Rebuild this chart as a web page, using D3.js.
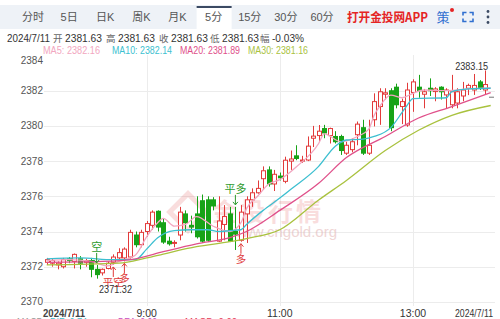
<!DOCTYPE html>
<html><head><meta charset="utf-8">
<script src="https://cdn.jsdelivr.net/npm/d3@7"></script>
<style>
html,body{margin:0;padding:0;background:#fff;overflow:hidden;}
svg{display:block;font-family:"Liberation Sans","Noto Sans CJK SC",sans-serif;}
</style></head><body>
<svg id="c" width="500" height="319"></svg>
<script>
// ---------- data ----------
const tabs = ["分时","5日","日K","周K","月K","5分","15分","30分","60分"];
const selectedTab = "5分";
const dateLabel = "2024/7/11";
const infoNames = ["开","高","收","低","幅"];
const infoValues = ["2381.63","2381.63","2381.63","2381.63","-0.03%"];
const maNames = ["MA5","MA10","MA20","MA30"];
const maLast = ["2382.16","2382.14","2381.89","2381.16"];
const yTicks = [2370,2372,2374,2376,2378,2380,2382,2384];
const xTickTimes = ["09:00","11:00","13:00"];
const xTickLabels = ["9:00","11:00","13:00"];
const times = ["07:30","07:35","07:40","07:45","07:50","07:55","08:00","08:05","08:10","08:15","08:20","08:25",
"08:30","08:35","08:40","08:45","08:50","08:55","09:00","09:05","09:10","09:15","09:20","09:25",
"09:30","09:35","09:40","09:45","09:50","09:55","10:00","10:05","10:10","10:15","10:20","10:25",
"10:30","10:35","10:40","10:45","10:50","10:55","11:00","11:05","11:10","11:15","11:20","11:25",
"11:30","11:35","11:40","11:45","11:50","11:55","12:00","12:05","12:10","12:15","12:20","12:25",
"12:30","12:35","12:40","12:45","12:50","12:55","13:00","13:05","13:10","13:15","13:20","13:25",
"13:30","13:35","13:40","13:45","13:50","13:55","14:00","14:05","14:10"];
const open = [2372.25,2372.2,2372.1,2372.0,2372.45,2372.3,2372.45,2372.25,2372.35,2371.85,2371.65,2371.9,
2372.25,2372.5,2372.5,2372.55,2373.8,2373.25,2374.0,2374.35,2375.15,2374.5,2373.45,2373.33,
2373.8,2375.0,2374.35,2375.0,2375.75,2375.8,2375.8,2373.45,2374.4,2375.0,2374.0,2373.5,
2375.0,2375.8,2376.2,2377.0,2377.5,2376.7,2377.15,2376.85,2378.0,2378.3,2378.0,2378.06,
2379.3,2379.45,2379.85,2379.45,2379.4,2379.4,2378.45,2378.65,2379.5,2379.9,2378.45,2380.35,
2381.1,2381.8,2382.0,2382.2,2381.1,2380.05,2381.9,2382.2,2381.8,2382.14,2381.95,2382.2,
2381.76,2381.2,2381.3,2381.7,2382.14,2382.04,2382.5,2382.04,2381.63];
const high = [2372.5,2372.45,2372.3,2372.5,2372.55,2372.75,2372.6,2372.45,2372.5,2372.1,2371.9,2372.3,
2372.7,2373.05,2373.1,2374.1,2374.0,2374.1,2374.6,2375.2,2375.2,2374.75,2373.7,2373.5,
2375.4,2375.2,2374.9,2376.0,2376.1,2376.0,2375.95,2376.0,2375.5,2375.4,2375.4,2375.5,
2376.0,2376.45,2376.9,2377.7,2377.7,2377.5,2377.35,2378.25,2378.6,2378.9,2378.3,2379.4,
2380.0,2380.05,2380.06,2379.9,2379.7,2379.5,2379.1,2379.3,2380.25,2380.35,2380.35,2381.85,
2382.14,2382.14,2382.14,2382.4,2381.55,2382.45,2382.65,2382.9,2382.1,2382.7,2382.2,2382.25,
2382.14,2382.9,2382.14,2382.5,2382.4,2382.95,2382.6,2383.15,2381.63];
const low = [2372.1,2372.0,2371.85,2371.9,2372.2,2371.9,2371.85,2372.0,2371.4,2371.32,2371.5,2371.85,
2372.1,2372.4,2372.3,2372.45,2373.1,2373.1,2373.7,2374.1,2374.0,2373.3,2373.2,2373.1,
2373.5,2374.0,2373.9,2373.6,2373.35,2373.4,2375.2,2373.4,2373.5,2373.4,2372.95,2373.42,
2373.35,2375.4,2376.15,2376.36,2376.55,2376.3,2376.9,2376.74,2377.5,2378.05,2377.9,2378.0,
2378.8,2379.1,2379.3,2379.0,2379.0,2378.35,2378.35,2378.5,2378.9,2378.35,2378.35,2379.97,
2380.06,2381.5,2379.7,2381.0,2380.1,2379.95,2380.8,2381.6,2381.0,2381.7,2381.4,2381.5,
2381.0,2381.0,2381.0,2381.4,2381.75,2381.76,2382.04,2381.76,2381.63];
const close = [2372.4,2372.35,2372.2,2372.4,2372.35,2372.7,2372.2,2372.35,2371.85,2371.55,2371.85,2372.2,
2372.55,2372.8,2373.0,2373.95,2373.25,2373.95,2374.45,2375.1,2374.25,2373.4,2373.3,2373.38,
2375.1,2374.5,2374.25,2373.7,2373.45,2373.5,2375.45,2374.6,2374.85,2373.45,2373.85,2375.1,
2375.8,2376.2,2376.45,2377.45,2376.7,2377.25,2377.05,2378.05,2378.12,2378.15,2378.06,2378.85,
2379.42,2379.7,2379.6,2379.85,2379.1,2378.6,2378.9,2379.1,2380.1,2378.45,2378.9,2381.38,
2381.94,2381.88,2379.9,2381.2,2381.38,2382.04,2382.5,2382.0,2381.94,2382.0,2382.1,2381.94,
2382.04,2381.94,2381.94,2382.04,2382.3,2382.3,2382.14,2382.35,2381.63];
// moving averages: [candle index, value]
const ma5 = [[0,2372.35],[4,2372.4],[8,2372.3],[11,2372.05],[13,2372.3],[16,2372.67],[18,2373.7],[20,2374.5],
[21,2374.75],[23,2374.3],[25,2374.4],[27,2374.85],[30,2374.3],[33,2374.0],[35,2374.5],[36,2375.3],[38,2376.0],
[40,2376.7],[42,2376.95],[45,2377.68],[49,2379.0],[50,2379.55],[53,2379.1],[56,2379.4],[58,2379.8],[59,2380.6],
[60,2381.1],[62,2381.75],[64,2381.6],[66,2381.85],[68,2382.04],[72,2382.0],[76,2382.1],[80,2382.16]];
const ma10 = [[0,2372.45],[6,2372.5],[12,2372.4],[16,2372.4],[18,2373.0],[20,2373.65],[23,2374.05],[26,2374.1],
[29,2374.1],[31,2374.0],[33,2374.05],[35,2374.1],[36,2374.4],[39,2375.2],[42,2375.9],[44,2376.4],[49,2377.7],
[52,2378.85],[54,2379.2],[57,2379.25],[59,2379.4],[62,2379.9],[64,2380.75],[65,2381.2],[66,2381.55],[72,2381.6],
[73,2381.95],[76,2382.1],[80,2382.14]];
const ma20 = [[0,2372.25],[10,2372.3],[16,2372.45],[21,2372.85],[27,2373.3],[33,2373.65],[36,2374.0],[42,2375.2],
[49,2376.74],[54,2378.2],[61,2379.4],[67,2380.45],[73,2381.1],[80,2381.89]];
const ma30 = [[0,2372.1],[13,2372.2],[18,2372.5],[21,2372.72],[27,2373.14],[33,2373.42],[36,2373.6],[42,2374.1],
[49,2375.79],[54,2376.9],[61,2378.6],[67,2379.75],[73,2380.6],[80,2381.16]];
const signals = [
  {i:9,  text:"空",   pos:"above", color:"#2e9b2e"},
  {i:12, text:"平空", pos:"below", color:"#e03a3a"},
  {i:14, text:"多",   pos:"below", color:"#e03a3a"},
  {i:34, text:"平多", pos:"above", color:"#2e9b2e"},
  {i:35, text:"多",   pos:"below", color:"#e03a3a"}
];
const lowLabel = {i:9, value:"2371.32"};
const highLabel = {i:79, value:"2383.15"};
const macdNames = ["MACD","DIF: 0.74","DEA: 0.00","MACD: 0.00"];

// ---------- layout ----------
const svg = d3.select("#c");
const maColors = ["#f2a7c0","#3cbfd0","#e0508a","#a9c23e"];
const up = "#e23b3b", down = "#17a317";
const x = d3.scaleLinear().domain([0, times.length-1]).range([46.7, 490.7]);
const y = d3.scaleLinear().domain([2370, 2384]).range([301.9, 55.5]);
const plotL = 44, plotR = 495, plotT = 55, plotB = 306;

// tab bar
svg.append("rect").attr("x",0).attr("y",5).attr("width",500).attr("height",24).attr("fill","#eef2f7");
const tx = d3.scalePoint().domain(tabs).range([33, 322]);
svg.append("rect").attr("x",tx(selectedTab)-17).attr("y",7).attr("width",35).attr("height",22).attr("fill","#fff");
svg.append("rect").attr("x",tx(selectedTab)-17).attr("y",6).attr("width",35).attr("height",2).attr("fill","#3b4a63");
svg.selectAll(".tab").data(tabs).enter().append("text")
  .attr("x",d=>tx(d)).attr("y",21).attr("text-anchor","middle")
  .attr("font-size",11).attr("fill","#555").text(d=>d);
svg.append("text").attr("x",347).attr("y",21.5).attr("font-size",12.5).attr("font-weight","bold")
  .attr("textLength",81).attr("lengthAdjust","spacingAndGlyphs")
  .attr("fill","#e52424").attr("font-family","Noto Sans CJK SC").text("打开金投网APP");
svg.append("text").attr("x",443).attr("y",22).attr("text-anchor","middle").attr("font-size",13)
  .attr("fill","#2f6fd0").attr("font-family","Noto Sans CJK SC").text("策");
svg.append("circle").attr("cx",452).attr("cy",10).attr("r",2).attr("fill","#e52424");
const fs = svg.append("g").attr("stroke","#2f6fd0").attr("stroke-width",1.6).attr("fill","none");
fs.append("path").attr("d","M463,15.5 V12.5 H466.5 M469.5,12.5 H473 V15.5 M473,18.5 V21.5 H469.5 M466.5,21.5 H463 V18.5");
[11.5,17,22.5].forEach(cy=>svg.append("circle").attr("cx",488).attr("cy",cy).attr("r",1.4).attr("fill","#3b4a63"));

// info line
const info = svg.append("g").attr("font-size",10.5).attr("fill","#333");
info.append("text").attr("x",7).attr("y",42).attr("textLength",43).attr("lengthAdjust","spacingAndGlyphs").text(dateLabel);
const infoX = [53,106,159,210,260];
infoNames.forEach((n,k)=>{
  info.append("text").attr("x",infoX[k]).attr("y",42).attr("fill","#666").attr("font-size",9.5).text(n);
  info.append("text").attr("x",infoX[k]+12).attr("y",42)
    .attr("textLength",k<4?37:32).attr("lengthAdjust","spacingAndGlyphs").text(infoValues[k]);
});
// MA legend
const legX = [43,112,180,248];
const legW = [57,60,60,60];
maNames.forEach((n,k)=>{
  svg.append("text").attr("x",legX[k]).attr("y",53.5).attr("font-size",10.5)
    .attr("textLength",legW[k]).attr("lengthAdjust","spacingAndGlyphs")
    .attr("fill",maColors[k]).text(n+": "+maLast[k]);
});

// grid
const grid = svg.append("g").attr("stroke","#ececec").attr("stroke-width",1);
yTicks.filter(v=>v<2384).forEach(v=>{
  grid.append("line").attr("x1",plotL).attr("x2",plotR).attr("y1",Math.round(y(v))+0.5).attr("y2",Math.round(y(v))+0.5);
});
xTickTimes.forEach(t=>{
  const xi = Math.round(x(times.indexOf(t)))+0.5;
  grid.append("line").attr("x1",xi).attr("x2",xi).attr("y1",plotT).attr("y2",plotB);
});
// y labels
svg.selectAll(".yl").data(yTicks).enter().append("text")
  .attr("x",43).attr("y",d=>Math.max(y(d),60.5)).attr("dy","0.35em").attr("text-anchor","end")
  .attr("font-size",10).attr("fill","#555").text(d=>d);
// x labels
const xl = svg.append("g").attr("font-size",10.5).attr("fill","#333");
xl.append("text").attr("x",43).attr("y",317).attr("font-weight","bold").attr("fill","#444")
  .attr("textLength",42).attr("lengthAdjust","spacingAndGlyphs").text(dateLabel);
xTickTimes.forEach((t,k)=>{
  xl.append("text").attr("x",x(times.indexOf(t))).attr("y",317).attr("text-anchor","middle").text(xTickLabels[k]);
});
xl.append("text").attr("x",455).attr("y",317)
  .attr("textLength",38).attr("lengthAdjust","spacingAndGlyphs").text(dateLabel);

// watermark
const wm = svg.append("g").attr("opacity",0.16);
wm.append("rect").attr("x",-13).attr("y",-13).attr("width",26).attr("height",26)
  .attr("transform","translate(188,212) rotate(45)").attr("fill","none").attr("stroke","#d33").attr("stroke-width",5);
wm.append("text").attr("x",212).attr("y",221).attr("font-size",25).attr("font-weight","bold")
  .attr("fill","#d33").attr("font-family","Noto Sans CJK SC").attr("letter-spacing",3).text("金投行情");
svg.append("text").attr("x",337).attr("y",237).attr("text-anchor","end").attr("font-size",15)
  .attr("fill","#e3b3b3").attr("opacity",0.55).text("www.cngold.org");

// candles
const cg = svg.append("g");
const bw = 4;
times.forEach((t,i)=>{
  const o=open[i], c=close[i], h=high[i], l=low[i];
  const flat = (o===c && h===l);
  const col = flat ? "#777" : (c>=o ? up : down);
  const cx = Math.round(x(i))+0.5;
  if(!flat) cg.append("line").attr("x1",cx).attr("x2",cx).attr("y1",y(h)).attr("y2",y(l)).attr("stroke",col).attr("stroke-width",1);
  const top = y(Math.max(o,c)), bot = y(Math.min(o,c));
  if (c>=o && !flat) {
    cg.append("rect").attr("x",cx-bw/2).attr("y",top).attr("width",bw).attr("height",Math.max(1,bot-top))
      .attr("fill","#fff").attr("stroke",col).attr("stroke-width",1);
  } else {
    cg.append("rect").attr("x",cx-bw/2-0.5).attr("y",top-0.5).attr("width",bw+1).attr("height",Math.max(1,bot-top+1))
      .attr("fill",col);
  }
});

// MA lines
const line = d3.line().x(d=>x(d[0])).y(d=>y(d[1])).curve(d3.curveMonotoneX);
[ma5,ma10,ma20,ma30].forEach((s,k)=>{
  svg.append("path").attr("d",line(s)).attr("fill","none").attr("stroke",maColors[k]).attr("stroke-width",1.3);
});

// signals
signals.forEach(s=>{
  const cx = x(s.i);
  const g = svg.append("g").attr("fill",s.color).attr("stroke",s.color);
  if (s.pos==="above") {
    const yh = y(high[s.i]) - 2;
    g.append("line").attr("x1",cx).attr("x2",cx).attr("y1",yh-10).attr("y2",yh).attr("stroke-width",1);
    g.append("path").attr("d",`M${cx-2.5},${yh-3} L${cx},${yh} L${cx+2.5},${yh-3}`).attr("fill","none");
    g.append("text").attr("x",cx).attr("y",yh-12).attr("text-anchor","middle").attr("stroke","none")
      .attr("font-size",11).attr("font-family","Noto Sans CJK SC").text(s.text);
  } else {
    const yl2 = y(low[s.i]) + 2;
    g.append("line").attr("x1",cx).attr("x2",cx).attr("y1",yl2).attr("y2",yl2+10).attr("stroke-width",1);
    g.append("path").attr("d",`M${cx-2.5},${yl2+3} L${cx},${yl2} L${cx+2.5},${yl2+3}`).attr("fill","none");
    g.append("text").attr("x",cx).attr("y",yl2+19).attr("text-anchor","middle").attr("stroke","none")
      .attr("font-size",10.5).attr("font-family","Noto Sans CJK SC").text(s.text);
  }
});

// extreme labels
svg.append("text").attr("x",99).attr("y",293).attr("font-size",10.5).attr("fill","#333")
  .attr("textLength",33).attr("lengthAdjust","spacingAndGlyphs").text(lowLabel.value);
svg.append("text").attr("x",x(highLabel.i)+3).attr("y",70).attr("text-anchor","end").attr("font-size",10.5).attr("fill","#333")
  .attr("textLength",33).attr("lengthAdjust","spacingAndGlyphs").text(highLabel.value);

// MACD legend (cut at bottom)
const macdX = [17,50,118,185];
const macdW = [26,37,39,52];
const macdCol = ["#999","#3cbfd0","#c64fc0","#e2405a"];
macdNames.forEach((n,k)=>{
  svg.append("text").attr("x",macdX[k]).attr("y",326).attr("font-size",10.5).attr("fill",macdCol[k])
    .attr("textLength",macdW[k]).attr("lengthAdjust","spacingAndGlyphs").text(n);
});
</script>
</body></html>
